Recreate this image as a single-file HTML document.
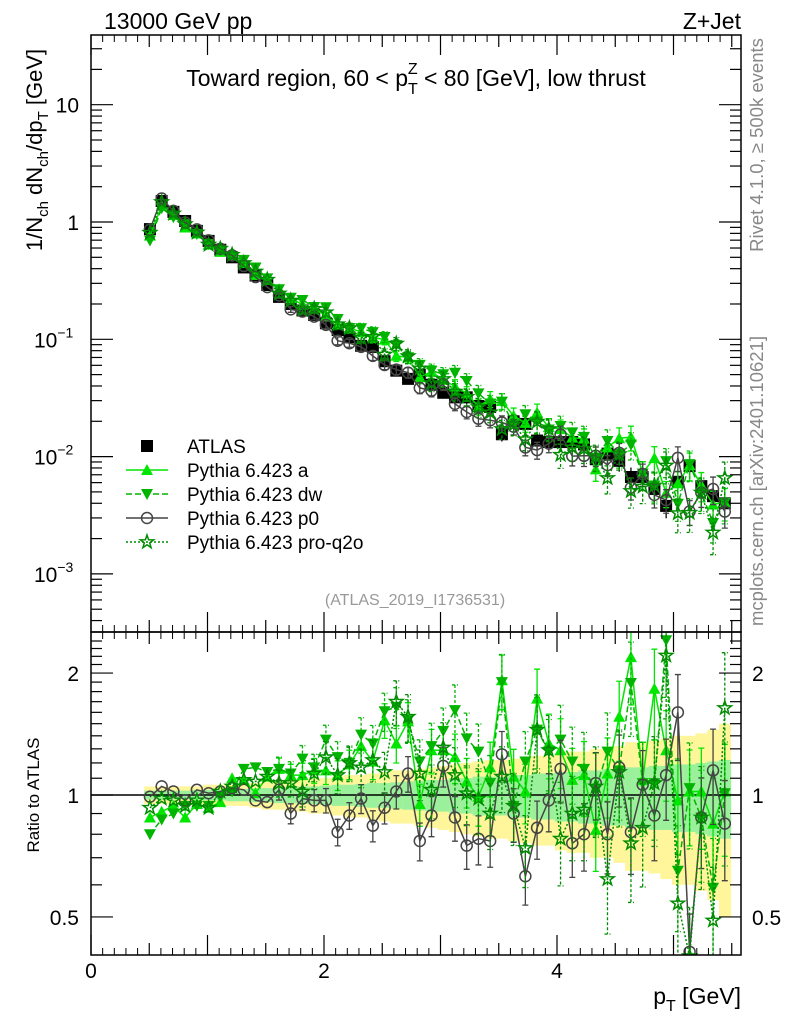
<!DOCTYPE html>
<html><head><meta charset="utf-8"><style>
html,body{margin:0;padding:0;background:#fff}
svg{display:block;font-family:"Liberation Sans",Arial,sans-serif}
</style></head><body>
<svg id="chart" width="786" height="1024" viewBox="0 0 786 1024" xmlns="http://www.w3.org/2000/svg">
<g id="bands"></g>
<g id="marks"></g>
<g id="axes"></g>
<text x="104" y="29" font-size="23">13000 GeV pp</text>
<text x="741" y="29" font-size="23" text-anchor="end">Z+Jet</text>
<text x="416" y="86" font-size="23" text-anchor="middle">Toward region, 60 &lt; p<tspan font-size="16" dy="8">T</tspan><tspan font-size="16" dx="-10" dy="-20">Z</tspan><tspan dy="12"> &lt; 80 [GeV], low thrust</tspan></text>
<text x="415" y="605" font-size="16" fill="#999" text-anchor="middle">(ATLAS_2019_I1736531)</text>
<text transform="translate(763,145) rotate(-90)" font-size="18.5" fill="#888" text-anchor="middle">Rivet 4.1.0, ≥ 500k events</text>
<text transform="translate(763,481) rotate(-90)" font-size="18.5" fill="#888" text-anchor="middle">mcplots.cern.ch [arXiv:2401.10621]</text>
<text transform="translate(42,150) rotate(-90)" font-size="22" text-anchor="middle">1/N<tspan font-size="15" dy="6">ch</tspan><tspan dy="-6"> dN</tspan><tspan font-size="15" dy="6">ch</tspan><tspan dy="-6">/dp</tspan><tspan font-size="15" dy="6">T</tspan><tspan dy="-6"> [GeV]</tspan></text>
<text transform="translate(39,795) rotate(-90)" font-size="17" text-anchor="middle">Ratio to ATLAS</text>
<text x="741" y="1004" font-size="23" text-anchor="end">p<tspan font-size="16" dy="7">T</tspan><tspan dy="-7"> [GeV]</tspan></text>
<g id="legend"></g>
</svg>
<script>
const NS="http://www.w3.org/2000/svg";
const binCenters=[];for(let i=0;i<50;i++)binCenters.push(0.506+i*0.1007);
const atlas=[0.87,1.51,1.22,1.02,0.84,0.69,0.58,0.50,0.41,0.35,0.29,0.23,0.20,0.176,0.161,0.137,0.120,0.104,0.088,0.086,0.065,0.054,0.046,0.050,0.041,0.035,0.032,0.032,0.027,0.0265,0.0155,0.020,0.019,0.0137,0.0133,0.0133,0.0133,0.0127,0.0095,0.0106,0.0092,0.0067,0.0067,0.0053,0.0038,0.0061,0.0083,0.0056,0.0046,0.0040];
const ratioA=[0.88,0.91,0.94,0.88,0.95,0.93,0.96,1.10,1.09,1.01,1.11,1.16,1.12,1.12,1.15,1.15,1.12,1.19,1.32,1.21,1.53,1.34,1.52,0.95,1.29,1.29,1.24,1.08,0.99,1.17,1.92,1.11,1.02,1.73,1.34,1.29,1.09,1.12,0.82,1.13,1.56,2.19,1.09,1.83,1.29,0.97,1.02,1.02,0.85,1.02];
const ratioDW=[0.80,0.87,0.90,0.94,0.94,0.94,0.99,1.02,1.16,1.17,1.14,1.16,1.13,1.23,1.17,1.37,1.24,1.20,1.41,1.34,1.61,1.65,1.53,1.21,1.32,1.44,1.62,1.38,1.28,1.07,1.90,0.94,1.21,1.45,1.28,1.37,1.21,1.16,1.03,1.28,1.15,1.89,1.07,1.07,2.41,0.65,1.04,0.88,0.59,1.01];
const ratioP0=[0.99,1.05,1.02,0.97,1.03,1.01,1.02,1.04,1.03,0.97,0.96,1.03,0.90,0.98,0.97,0.97,0.81,0.89,0.98,0.84,0.93,1.02,1.13,0.77,0.89,1.18,0.88,0.75,0.78,0.77,1.26,0.90,0.63,0.83,0.97,1.16,0.76,0.80,1.07,0.80,1.17,0.81,1.06,0.89,1.12,1.60,0.41,0.88,1.15,0.85];
const ratioQ2O=[0.93,0.98,0.97,0.94,0.97,0.93,1.02,1.05,1.09,1.08,1.11,1.07,1.07,1.02,1.13,1.24,1.12,1.20,1.17,1.22,1.14,1.70,1.56,1.13,1.03,1.31,1.12,1.01,0.98,0.90,1.11,0.94,0.74,1.45,1.29,0.78,0.90,0.92,1.05,0.62,1.14,0.76,0.83,1.07,2.21,0.54,0.40,0.88,0.49,1.64];
const totErr=[0.05,0.05,0.05,0.05,0.05,0.06,0.06,0.06,0.06,0.07,0.08,0.08,0.09,0.09,0.10,0.10,0.11,0.12,0.12,0.13,0.14,0.15,0.15,0.16,0.17,0.18,0.19,0.20,0.21,0.22,0.22,0.23,0.24,0.25,0.25,0.27,0.28,0.28,0.30,0.30,0.32,0.35,0.35,0.36,0.38,0.40,0.40,0.42,0.45,0.50];
const statErr=[0.025,0.025,0.025,0.025,0.03,0.03,0.03,0.035,0.035,0.04,0.04,0.045,0.045,0.05,0.05,0.055,0.06,0.06,0.065,0.07,0.07,0.075,0.08,0.085,0.09,0.09,0.10,0.10,0.11,0.11,0.11,0.12,0.12,0.13,0.13,0.14,0.14,0.15,0.15,0.16,0.16,0.17,0.17,0.18,0.18,0.19,0.19,0.20,0.21,0.22];
const xTicks=["0","2","4"];
const mainTicks=[[10,"10"],[1,"1"],[0.1,"10","−1"],[0.01,"10","−2"],[0.001,"10","−3"]];
const ratioTicks=[[2,"2"],[1,"1"],[0.5,"0.5"]];

const L=91,R=741,T=35,MB=632,RB=955;
const X=v=>L+v*116.5;
const Y=v=>222-Math.log10(v)*117.3;
const YR=v=>795-Math.log10(v)*405;
function el(tag,attrs,parent){const e=document.createElementNS(NS,tag);for(const k in attrs)e.setAttribute(k,attrs[k]);parent.appendChild(e);return e;}
const bands=document.getElementById('bands'),marks=document.getElementById('marks'),axes=document.getElementById('axes'),leg=document.getElementById('legend');
const hw=0.05;
for(let i=0;i<50;i++){
  const x0=X(binCenters[i]-hw),x1=X(binCenters[i]+hw);
  const b1=el('rect',{x:x0,y:YR(1+totErr[i]),width:x1-x0+0.5,height:YR(Math.max(0.05,1-totErr[i]))-YR(1+totErr[i]),fill:'#fff59a'},bands);
  
  
  const b2=el('rect',{x:x0,y:YR(1+statErr[i]),width:x1-x0+0.5,height:YR(1-statErr[i])-YR(1+statErr[i]),fill:'#9bf09b'},bands);
  
  
}
const defs=el('defs',{},document.getElementById('chart'));
const c1=el('clipPath',{id:'cm'},defs);el('rect',{x:L,y:T,width:R-L,height:MB-T},c1);
const c2=el('clipPath',{id:'cr'},defs);el('rect',{x:L,y:MB,width:R-L,height:RB-MB},c2);
const gm=el('g',{'clip-path':'url(#cm)'},marks),gr=el('g',{'clip-path':'url(#cr)'},marks);
const u=el('line',{x1:L,x2:R,y1:YR(1),y2:YR(1),stroke:'#000','stroke-width':1.5},gr);



function marker(type,x,y,color,g){
  let m;
  if(type==='sq'){m=el('rect',{x:x-6,y:y-6,width:12,height:12,fill:'#000'},g);}
  else if(type==='up'){m=el('polygon',{points:`${x},${y-6} ${x-6},${y+5} ${x+6},${y+5}`,fill:color},g);}
  else if(type==='dn'){m=el('polygon',{points:`${x},${y+6} ${x-6},${y-5} ${x+6},${y-5}`,fill:color},g);}
  else if(type==='ci'){m=el('circle',{cx:x,cy:y,r:5.5,fill:'none',stroke:color,'stroke-width':1.5},g);}
  else {let p=[];for(let k=0;k<10;k++){const r=k%2?2.8:7,a=-Math.PI/2+k*Math.PI/5;p.push((x+r*Math.cos(a)).toFixed(1)+','+(y+r*Math.sin(a)).toFixed(1));}
    m=el('polygon',{points:p.join(' '),fill:'none',stroke:color,'stroke-width':1.5},g);}
  return m;
}
const series=[
 {name:'pythia-a',r:ratioA,type:'up',color:'#00e600',dash:'',ef:1.0},
 {name:'pythia-dw',r:ratioDW,type:'dn',color:'#00b400',dash:'6,3',ef:1.1},
 {name:'pythia-p0',r:ratioP0,type:'ci',color:'#444',dash:'',ef:0.9},
 {name:'pythia-pro-q2o',r:ratioQ2O,type:'st',color:'#008c00',dash:'2,2',ef:1.2}
];
for(let i=0;i<50;i++){
  const x=X(binCenters[i]),y=Y(atlas[i]);
  const e=Math.min(0.5,statErr[i]*1.2);
  const eb=el('line',{x1:x,x2:x,y1:Y(atlas[i]*(1+e)),y2:Y(atlas[i]*(1-e)),stroke:'#000','stroke-width':1.3},gm);
  
  
  const m=marker('sq',x,y,'#000',gm);
  
  
}
series.forEach(s=>{
  [[gm,i=>Y(atlas[i]*s.r[i])],[gr,i=>YR(s.r[i])]].forEach(([g,yf],pi)=>{
    const pts=[];for(let i=0;i<50;i++)pts.push(X(binCenters[i]).toFixed(1)+','+yf(i).toFixed(1));
    const pl=el('polyline',{points:pts.join(' '),fill:'none',stroke:s.color,'stroke-width':1.5,'stroke-dasharray':s.dash},g);
    
    
    for(let i=0;i<50;i++){
      const x=X(binCenters[i]);const e=Math.min(0.6,statErr[i]*s.ef*1.4);
      const base=pi===0?atlas[i]*s.r[i]:s.r[i];const f=pi===0?Y:YR;
      if(i>10){const eb=el('path',{d:`M${x},${f(base*(1+e))}V${f(base*Math.max(0.05,1-e))}M${x-3},${f(base*(1+e))}h6M${x-3},${f(base*Math.max(0.05,1-e))}h6`,stroke:s.color,'stroke-width':1.3,'stroke-dasharray':s.dash?'3,2':'',fill:'none'},g);
      
      }
      const m=marker(s.type,x,yf(i),s.color,g);
      
      
    }
  });
});
[[T,MB],[MB,RB]].forEach(([t,b])=>{const f=el('rect',{x:L,y:t,width:R-L,height:b-t,fill:'none',stroke:'#000','stroke-width':1.5},axes);

});
for(let v=0;v<=5.5;v+=0.5){const x=X(v);const len=(v%1===0)?20:12;
  [[T,1],[MB,-1],[MB,1],[RB,-1]].forEach(([y,d])=>{el('line',{x1:x,x2:x,y1:y,y2:y+d*len,stroke:'#000','stroke-width':1.2},axes);});
  for(let k=1;k<5&&v+k*0.1<5.6;k++){const xm=X(v+k*0.1);[[T,1],[MB,-1],[MB,1],[RB,-1]].forEach(([y,d])=>el('line',{x1:xm,x2:xm,y1:y,y2:y+d*7,stroke:'#000','stroke-width':1},axes));}
}
xTicks.forEach((t,i)=>{const tx=el('text',{x:X(+t),y:978,'font-size':21,'text-anchor':'middle'},axes);tx.textContent=t;
  
  });
for(let d=-4;d<=1;d++){for(let k=1;k<10;k++){const v=k*Math.pow(10,d);const y=Y(v);if(y<T||y>MB)continue;const len=k===1?22:11;
  el('line',{x1:L,x2:L+len,y1:y,y2:y,stroke:'#000','stroke-width':1.2},axes);el('line',{x1:R,x2:R-len,y1:y,y2:y,stroke:'#000','stroke-width':1.2},axes);}}
mainTicks.forEach(t=>{const tx=el('text',{x:79,y:Y(t[0])+8,'font-size':21,'text-anchor':'end'},axes);
  
  
  if(t[2]){tx.textContent=t[1];const sp=el('tspan',{'font-size':14,dy:-10},tx);sp.textContent=t[2];tx.setAttribute('text-anchor','start');tx.setAttribute('x',34);}
  else tx.textContent=t[1];});
for(let v=0.4;v<=2.5;v+=0.1){const y=YR(v);if(y<MB||y>RB)continue;const major=Math.abs(v-0.5)<1e-6||Math.abs(v-1)<1e-6||Math.abs(v-2)<1e-6;const len=major?22:11;
  el('line',{x1:L,x2:L+len,y1:y,y2:y,stroke:'#000','stroke-width':1.2},axes);el('line',{x1:R,x2:R-len,y1:y,y2:y,stroke:'#000','stroke-width':1.2},axes);}
ratioTicks.forEach(t=>{[[79,'end'],[752,'start']].forEach(([x,a])=>{const tx=el('text',{x:x,y:YR(t[0])+8,'font-size':21,'text-anchor':a},axes);tx.textContent=t[1];
  
  });});
const legItems=[['ATLAS','sq','#000',''],['Pythia 6.423 a','up','#00e600',''],['Pythia 6.423 dw','dn','#00b400','6,3'],['Pythia 6.423 p0','ci','#444',''],['Pythia 6.423 pro-q2o','st','#008c00','2,2']];
legItems.forEach((it,i)=>{const y=446+i*24;const g=el('g',{},leg);
  
  
  if(i>0)el('line',{x1:126,x2:168,y1:y,y2:y,stroke:it[2],'stroke-width':1.5,'stroke-dasharray':it[3]},g);
  marker(it[1],147,y,it[2],g);
  const tx=el('text',{x:187,y:y+7,'font-size':19},g);tx.textContent=it[0];});
</script>
</body></html>
